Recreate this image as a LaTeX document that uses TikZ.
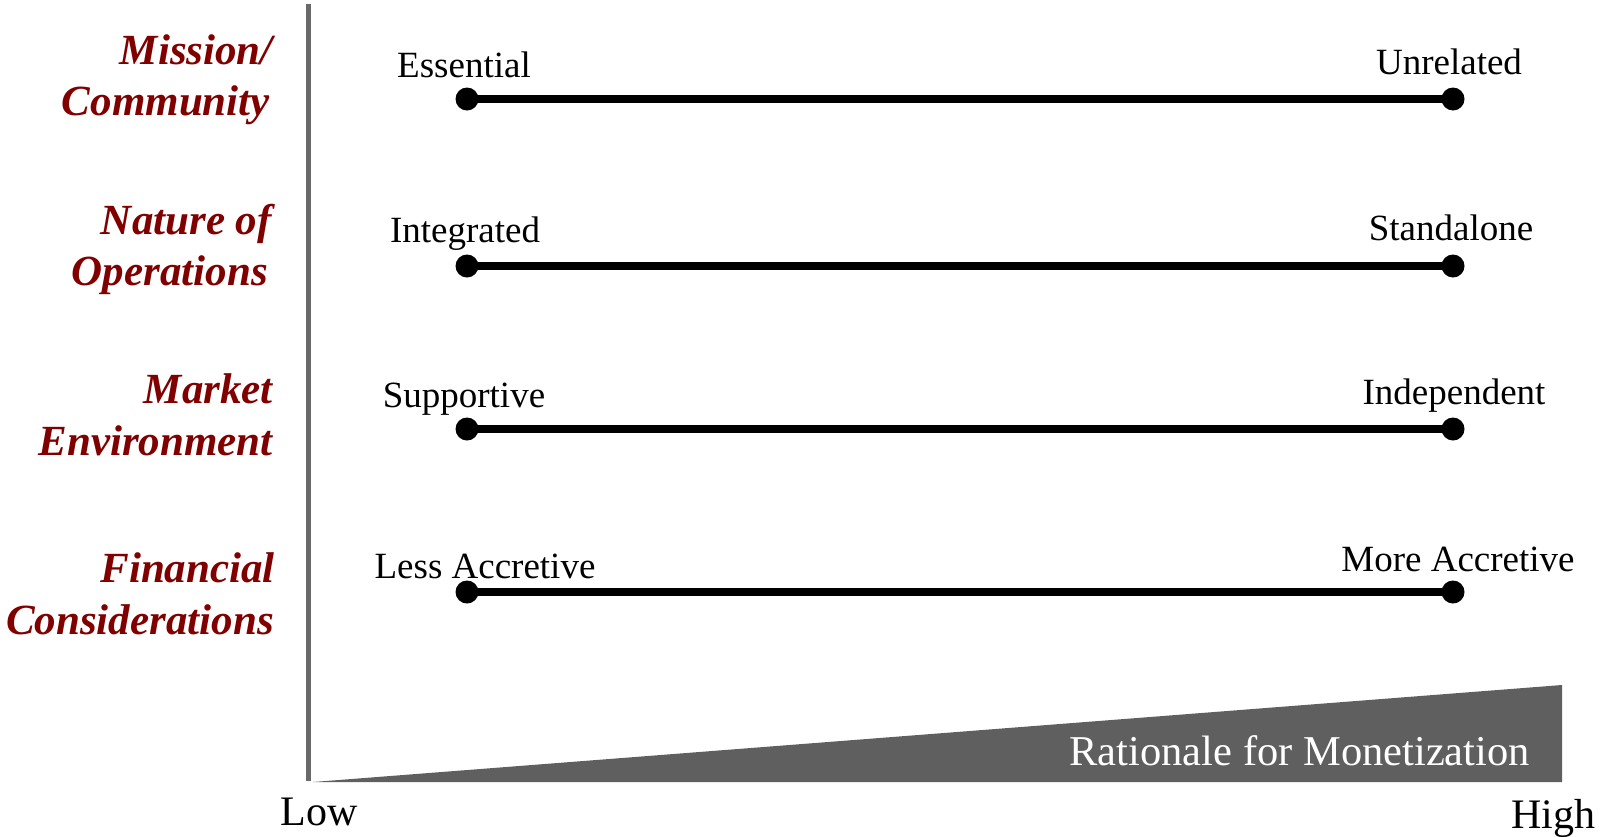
\documentclass[tikz,border=0pt]{standalone}
\usepackage{fontspec}
\setmainfont{Liberation Serif}
\definecolor{dimred}{RGB}{128,0,0}
\definecolor{axisgray}{RGB}{105,105,105}
\definecolor{wedgegray}{RGB}{95,95,95}
\tikzset{
  cat/.style={anchor=base east, inner sep=0pt, text=dimred, font=\fontsize{43}{47}\selectfont\bfseries\itshape},
  endlabel/.style={anchor=base, inner sep=0pt, font=\fontsize{37}{42}\selectfont},
  axislabel/.style={anchor=base, inner sep=0pt, font=\fontsize{42}{46}\selectfont},
  dot/.style={circle, fill=black, inner sep=0pt, minimum size=23pt},
  scale line/.style={line width=8pt, black},
}
\begin{document}
\begin{tikzpicture}[x=1pt,y=-1pt]
\useasboundingbox (0,0) rectangle (1610,836);
% axis
\coordinate (axtop) at (308,4);
\coordinate (axbot) at (308,781);
\draw[axisgray, line width=5pt] (axtop) -- (axbot);
% wedge
\fill[wedgegray] (313,782) -- (1562,685) -- (1562,782) -- cycle;
\node[anchor=base east, inner sep=0pt, text=white, font=\fontsize{42.5}{47}\selectfont] (rat) at (1530,765) {Rationale for Monetization};
% category labels
\node[cat] (c1a) at (273,64) {Mission/};
\node[cat] (c1b) at (270,115) {Community};
\node[cat] (c2a) at (272,234) {Nature of};
\node[cat] (c2b) at (268,285) {Operations};
\node[cat] (c3a) at (273,403) {Market};
\node[cat] (c3b) at (273,455) {Environment};
\node[cat] (c4a) at (275,582) {Financial};
\node[cat] (c4b) at (274,634) {Considerations};
% rows
\node[dot] (l1) at (467,99) {};
\node[dot] (r1) at (1453,99) {};
\draw[scale line] (l1.center) -- (r1.center);
\node[endlabel] (t1l) at (464,77) {Essential};
\node[endlabel] (t1r) at (1449,74) {Unrelated};

\node[dot] (l2) at (467,266) {};
\node[dot] (r2) at (1453,266) {};
\draw[scale line] (l2.center) -- (r2.center);
\node[endlabel] (t2l) at (465,242) {Integrated};
\node[endlabel] (t2r) at (1451,240) {Standalone};

\node[dot] (l3) at (467,429) {};
\node[dot] (r3) at (1453,429) {};
\draw[scale line] (l3.center) -- (r3.center);
\node[endlabel] (t3l) at (464,407) {Supportive};
\node[endlabel] (t3r) at (1454,404) {Independent};

\node[dot] (l4) at (467,592) {};
\node[dot] (r4) at (1453,592) {};
\draw[scale line] (l4.center) -- (r4.center);
\node[endlabel] (t4l) at (485,578) {Less Accretive};
\node[endlabel] (t4r) at (1458,571) {More Accretive};
% axis ends
\node[axislabel] (low) at (319,825) {Low};
\node[axislabel] (high) at (1553,828) {High};
\end{tikzpicture}
\end{document}
